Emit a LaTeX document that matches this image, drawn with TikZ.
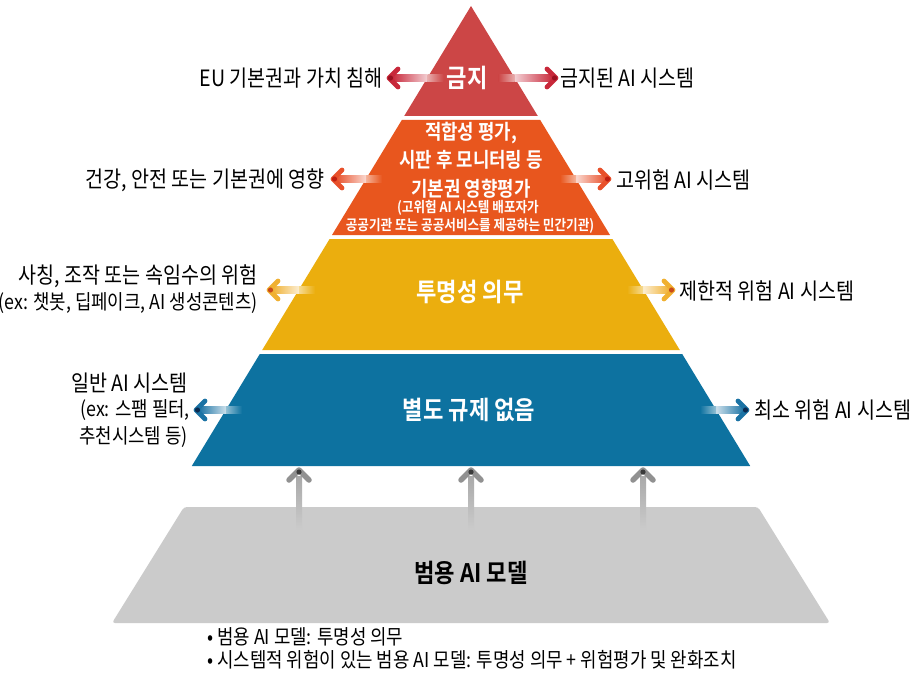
\documentclass[tikz,border=0pt]{standalone}
\usepackage{fontspec}
\setmainfont{Noto Sans CJK KR}[FakeStretch=0.87, BoldFont={Noto Sans CJK KR Bold}]
\definecolor{cred}{HTML}{CC4646}
\definecolor{corange}{HTML}{E8561E}
\definecolor{cyellow}{HTML}{EBAE0E}
\definecolor{cblue}{HTML}{0D72A0}
\definecolor{cgray}{HTML}{CBCBCB}
\definecolor{ared}{HTML}{C8283A}
\definecolor{aredd}{HTML}{9A1020}
\definecolor{aorange}{HTML}{E8502A}
\definecolor{aoranged}{HTML}{C01E10}
\definecolor{ayellow}{HTML}{F0B030}
\definecolor{ayellowd}{HTML}{C84A1A}
\definecolor{ablue}{HTML}{1A72A4}
\definecolor{ablued}{HTML}{0A2A50}
\definecolor{agray}{HTML}{858585}
\definecolor{agrayd}{HTML}{3A3A3A}
\tikzset{
  chev/.style={line width=4.8pt, line cap=round, line join=round},
  bandlbl/.style={text=white, font=\bfseries\fontsize{25.5}{27}\selectfont, inner sep=0pt},
  smlbl/.style={text=white, font=\bfseries\fontsize{14.5}{16}\selectfont, inner sep=0pt},
  midlbl/.style={text=white, font=\bfseries\fontsize{20.5}{22}\selectfont, inner sep=0pt},
  sidelbl/.style={text=black, font=\fontsize{22.5}{24}\selectfont, inner sep=0pt},
  sidesm/.style={text=black, font=\fontsize{20.5}{22}\selectfont, inner sep=0pt},
  notelbl/.style={text=black, font=\fontsize{20.5}{22}\selectfont, inner sep=0pt, anchor=west},
}
% left arrow: #1 tip x, #2 pyramid edge x, #3 y, #4 colour, #5 dark, #6 band colour
\newcommand{\leftarr}[6]{%
  \coordinate (t) at (#1,#3);
  \shade[left color=#4, right color=#4!22] (#1+3,#3-3.5) rectangle (#2,#3+3.5);
  \shade[left color=#6!45, right color=#6] (#2,#3-3.5) rectangle (#2+16,#3+3.5);
  \draw[chev,#4] (#1+9,#3-9) -- (t) -- (#1+9,#3+9);
  \fill[#5] ([xshift=1.5pt]t) circle (2.6pt);
}
\newcommand{\rightarr}[6]{%
  \coordinate (t) at (#1,#3);
  \shade[right color=#4, left color=#4!22] (#1-3,#3-3.5) rectangle (#2,#3+3.5);
  \shade[right color=#6!45, left color=#6] (#2-16,#3-3.5) rectangle (#2,#3+3.5);
  \draw[chev,#4] (#1-9,#3-9) -- (t) -- (#1-9,#3+9);
  \fill[#5] ([xshift=-1.5pt]t) circle (2.6pt);
}
\newcommand{\uparr}[1]{%
  \coordinate (u) at (#1,470);
  \shade[top color=agray!70, bottom color=cgray] (#1-3,476) rectangle (#1+3,530);
  \draw[chev,agray!90,line width=5.5pt] (#1-10,480) -- (u) -- (#1+10,480);
  \fill[agrayd] ([yshift=-2pt]u) circle (2.6pt);
}
\begin{document}
\begin{tikzpicture}[x=1pt,y=-1pt]
\useasboundingbox (0,0) rectangle (918,674);
\fill[white] (0,0) rectangle (918,674);
% bands
\fill[cred] (471,6) -- (537.8,116) -- (404.2,116) -- cycle;
\fill[corange] (401.8,120) -- (540.2,120) -- (610,235) -- (332,235) -- cycle;
\fill[cyellow] (329.6,239) -- (612.4,239) -- (679.8,350) -- (262.2,350) -- cycle;
\fill[cblue] (259.8,354) -- (682.2,354) -- (750.2,466) -- (191.8,466) -- cycle;
\fill[cgray, rounded corners=3pt] (184,507) -- (758,507) -- (830,623) -- (112,623) -- cycle;
% side arrows
\leftarr{389}{427.5}{78}{ared}{aredd}{cred}
\rightarr{556}{514.5}{78}{ared}{aredd}{cred}
\leftarr{333}{366}{179}{aorange}{aoranged}{corange}
\rightarr{609}{576}{179}{aorange}{aoranged}{corange}
\leftarr{269}{299}{290}{ayellow}{ayellowd}{cyellow}
\rightarr{673}{643}{290}{ayellow}{ayellowd}{cyellow}
\leftarr{196}{226}{410}{ablue}{ablued}{cblue}
\rightarr{747}{716}{410}{ablue}{ablued}{cblue}
% up arrows
\uparr{299}
\uparr{471}
\uparr{643}
% band labels
\node[bandlbl] (ban) at (467,78) {금지};
\node[midlbl] (o1) at (471,133) {적합성 평가,};
\node[midlbl] (o2) at (471,160) {시판 후 모니터링 등};
\node[midlbl] (o3) at (471,189) {기본권 영향평가};
\node[smlbl] (o4) at (468,208) {(고위험 AI 시스템 배포자가};
\node[smlbl] (o5) at (470,226) {공공기관 또는 공공서비스를 제공하는 민간기관)};
\node[bandlbl] (yl) at (470,292) {투명성 의무};
\node[bandlbl] (bl) at (469,410) {별도 규제 없음};
\node[bandlbl, text=black] (gl) at (471,573) {범용 AI 모델};
% side labels
\node[sidelbl, anchor=east] (l1) at (383,78) {EU 기본권과 가치 침해};
\node[sidelbl, anchor=west] (r1) at (560,78) {금지된 AI 시스템};
\node[sidelbl, anchor=east] (l2) at (325,180) {건강, 안전 또는 기본권에 영향};
\node[sidelbl, anchor=west] (r2) at (616,180) {고위험 AI 시스템};
\node[sidelbl, anchor=east] (l3a) at (258,276) {사칭, 조작 또는 속임수의 위험};
\node[sidesm, anchor=east] (l3b) at (258,303) {(ex: 챗봇, 딥페이크, AI 생성콘텐츠)};
\node[sidelbl, anchor=west] (r3) at (679,291) {제한적 위험 AI 시스템};
\node[sidelbl, anchor=east] (l4a) at (188,383) {일반 AI 시스템};
\node[sidesm, anchor=east] (l4b) at (190,410) {(ex: 스팸 필터,};
\node[sidesm, anchor=east] (l4c) at (188,437) {추천시스템 등)};
\node[sidelbl, anchor=west] (r4) at (754,410) {최소 위험 AI 시스템};
% notes
\node[notelbl] (n1) at (207,637) {• 범용 AI 모델: 투명성 의무};
\node[notelbl] (n2) at (207,660) {• 시스템적 위험이 있는 범용 AI 모델: 투명성 의무 + 위험평가 및 완화조치};
\end{tikzpicture}
\end{document}
